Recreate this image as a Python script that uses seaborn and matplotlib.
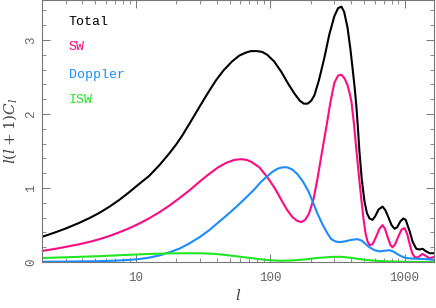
import numpy as np
import pandas as pd
import matplotlib
matplotlib.use("Agg")
import matplotlib.pyplot as plt
import matplotlib.ticker as mticker
import seaborn as sns

# -----------------------------------
# DATA
# -----------------------------------

l_total = [2, 2.5, 3, 3.75, 4.5, 5.3, 6.3, 7.47, 8.87, 10.5, 12.5, 15, 17.6, 20, 22, 25,
           29.5, 34, 39.5, 45, 52, 59, 66, 72, 79, 87, 95, 107, 121, 135, 151, 166, 178,
           190, 202, 213, 230, 253, 275, 300, 320, 339, 355, 376, 395, 410, 425, 438,
           450, 461, 480, 503, 525, 548, 577, 605, 640, 685, 720, 760, 800, 842, 880,
           930, 980, 1020, 1089, 1150, 1223, 1290, 1362, 1430, 1538, 1650]
cl_total = [0.34, 0.40, 0.453, 0.526, 0.593, 0.66, 0.743, 0.835, 0.94, 1.05, 1.16, 1.31,
            1.46, 1.59, 1.70, 1.865, 2.085, 2.27, 2.455, 2.59, 2.71, 2.79, 2.83, 2.85,
            2.85, 2.84, 2.80, 2.71, 2.57, 2.42, 2.28, 2.18, 2.14, 2.14, 2.18, 2.25, 2.45,
            2.76, 3.07, 3.32, 3.43, 3.45, 3.38, 3.17, 2.88, 2.62, 2.36, 2.10, 1.80, 1.50,
            1.12, 0.82, 0.66, 0.59, 0.57, 0.62, 0.71, 0.75, 0.70, 0.60, 0.50, 0.45, 0.47,
            0.55, 0.59, 0.57, 0.42, 0.27, 0.18, 0.17, 0.18, 0.15, 0.12, 0.12]

l_sw = [2, 2.66, 3.75, 4.5, 5.3, 6.3, 7.47, 8.87, 10.5, 12.5, 15, 17.6, 21, 24.9, 30,
        35.1, 41, 47, 54, 61, 67, 73, 83, 95, 108, 121, 133, 146, 158, 170, 182, 195,
        210, 224, 242, 262, 280, 300, 320, 339, 358, 376, 390, 402, 420, 438, 458, 477,
        495, 512, 530, 548, 577, 610, 650, 685, 715, 750, 785, 813, 850, 900, 950, 1000,
        1045, 1089, 1140, 1187, 1250, 1310, 1362, 1420, 1538, 1650]
cl_sw = [0.15, 0.187, 0.239, 0.272, 0.307, 0.35, 0.40, 0.455, 0.517, 0.589, 0.674, 0.758,
         0.86, 0.965, 1.09, 1.19, 1.28, 1.34, 1.38, 1.39, 1.38, 1.35, 1.28, 1.15, 1.00,
         0.84, 0.71, 0.61, 0.56, 0.54, 0.57, 0.66, 0.85, 1.11, 1.47, 1.83, 2.15, 2.42,
         2.52, 2.53, 2.48, 2.39, 2.28, 2.17, 1.87, 1.51, 1.15, 0.84, 0.58, 0.39, 0.28,
         0.23, 0.24, 0.33, 0.45, 0.50, 0.45, 0.33, 0.23, 0.20, 0.24, 0.35, 0.44, 0.46,
         0.38, 0.25, 0.12, 0.07, 0.06, 0.09, 0.11, 0.09, 0.05, 0.07]

l_dop = [2, 3, 5.3, 7.47, 8.87, 10.5, 12.5, 15, 17.6, 21, 24.9, 30, 35.1, 42, 49.5, 57,
         66, 76, 85, 95, 104, 113, 123, 134, 146, 159, 175, 192, 208, 224, 245, 266,
         285, 305, 327, 360, 400, 446, 480, 515, 548, 600, 650, 720, 773, 830, 880, 918,
         1000, 1089, 1250, 1458, 1650]
cl_dop = [0.005, 0.007, 0.012, 0.022, 0.03, 0.04, 0.06, 0.09, 0.13, 0.18, 0.25, 0.34,
          0.43, 0.55, 0.66, 0.76, 0.87, 0.98, 1.08, 1.16, 1.22, 1.26, 1.28, 1.28, 1.25,
          1.19, 1.09, 0.96, 0.81, 0.66, 0.51, 0.39, 0.31, 0.28, 0.27, 0.28, 0.30, 0.31,
          0.29, 0.24, 0.20, 0.16, 0.145, 0.155, 0.16, 0.14, 0.11, 0.09, 0.06, 0.05,
          0.045, 0.04, 0.03]

l_isw = [2, 3, 5.3, 8, 12.5, 18, 24.9, 32, 39.5, 50, 61, 72, 83, 100, 121, 145, 179,
         220, 285, 330, 357, 410, 461, 550, 650, 800, 1035, 1650]
cl_isw = [0.055, 0.065, 0.08, 0.095, 0.11, 0.118, 0.12, 0.118, 0.11, 0.09, 0.07, 0.055,
          0.04, 0.025, 0.018, 0.022, 0.035, 0.055, 0.07, 0.072, 0.068, 0.055, 0.04,
          0.025, 0.015, 0.008, 0.004, 0.0]

labels = ["Total", "SW", "Doppler", "ISW"]
colors = ["#000000", "#ff0a82", "#1a8cff", "#22e622"]

# -----------------------------------
# PLOT
# -----------------------------------

sns.set_style("ticks")
plt.rcParams['font.family'] = ['Liberation Mono', 'DejaVu Sans']
plt.rcParams['mathtext.fontset'] = 'dejavuserif'

fig = plt.figure(figsize=(4.36, 3.08), dpi=100)
ax = fig.add_axes([0.096, 0.149, 0.899, 0.851])

series = [(l_total, cl_total), (l_sw, cl_sw), (l_dop, cl_dop), (l_isw, cl_isw)]
for (lx, cy), lab, col in zip(series, labels, colors):
    df = pd.DataFrame({"l": lx, "cl": cy})
    sns.lineplot(data=df, x="l", y="cl", color=col, linewidth=1.5, ax=ax, legend=False)

ax.set_xscale("log")
ax.set_xlim(2, 1650)
ax.set_ylim(0, 3.54)

ax.yaxis.set_major_locator(mticker.MultipleLocator(1))
ax.yaxis.set_minor_locator(mticker.MultipleLocator(0.2))
ax.xaxis.set_major_formatter(mticker.FuncFormatter(lambda v, p: f"{v:g}"))
ax.xaxis.set_minor_formatter(mticker.NullFormatter())

grey = "#777777"
for s in ax.spines.values():
    s.set_color(grey)
    s.set_linewidth(0.8)
ax.tick_params(which="both", direction="in", top=True, right=True, colors=grey,
               labelcolor="#666666", labelsize=9)
ax.tick_params(which="major", length=6, width=0.7)
ax.tick_params(which="minor", length=3, width=0.6)
ax.tick_params(axis="x", pad=7)
for t in ax.get_yticklabels():
    t.set_rotation(90)
    t.set_va("center")

ax.set_xlabel("$l$", fontsize=11, color="#444444", labelpad=3)
ax.set_ylabel("$l(l+1)C_l$", fontsize=11, color="#444444", labelpad=4)

# coloured text legend
ypos = [0.916, 0.82, 0.714, 0.618]
for lab, col, yy in zip(labels, colors, ypos):
    ax.text(0.069, yy, lab, color=col, fontsize=9.5, transform=ax.transAxes, va="center")

plt.savefig("out.png", dpi=100)
